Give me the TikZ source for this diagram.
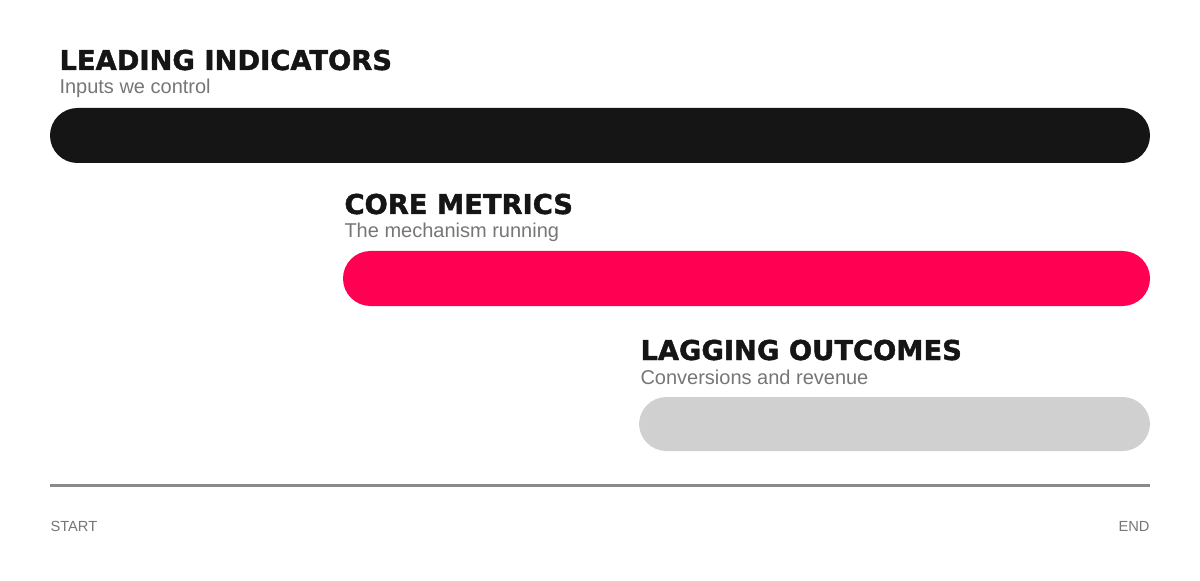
\documentclass[tikz,border=0pt]{standalone}
\usepackage{fontspec}
\setmainfont{Liberation Sans}
\newfontfamily\headfont[BoldFeatures={FakeBold=1.6}]{DejaVu Sans}

\definecolor{barblack}{RGB}{21,21,21}
\definecolor{barred}{RGB}{255,0,82}
\definecolor{bargray}{RGB}{208,208,208}
\definecolor{subgray}{RGB}{118,118,118}
\definecolor{axisgray}{RGB}{138,138,138}

\tikzset{every picture/.style={line width=0.75pt}}
\tikzset{
  heading/.style={anchor=base west,inner sep=0pt,text=barblack,font=\headfont\bfseries\fontsize{20.5}{24}\selectfont},
  subline/.style={anchor=base west,inner sep=0pt,text=subgray,font=\fontsize{15}{18}\selectfont},
  axislabel/.style={inner sep=0pt,text=subgray,font=\fontsize{11}{13}\selectfont},
  bar/.style={rounded corners=20.6pt}
}

\begin{document}
\begin{tikzpicture}[x=0.75pt,y=0.75pt,yscale=-1,xscale=1]
	\useasboundingbox (0,0) rectangle (1200,581);

	%Bars
	\fill [bar,barblack] (50,108) rectangle (1150,163);
	\fill [bar,barred] (343,251) rectangle (1150,306);
	\fill [bar,bargray] (639,397) rectangle (1150,451);
	%Time axis
	\draw [axisgray,line width=2.25pt] (50,485) -- (1150,485);

	% Text Node
	\node [heading] (leadhead) at (59,70) {LEADING INDICATORS};
	\node [subline] (leadsub) at (59,94) {Inputs we control};
	% Text Node
	\node [heading] (corehead) at (344,214) {CORE METRICS};
	\node [subline] (coresub) at (344,238) {The mechanism running};
	% Text Node
	\node [heading] (laghead) at (640,360) {LAGGING OUTCOMES};
	\node [subline] (lagsub) at (640,384) {Conversions and revenue};
	% Text Node
	\node [axislabel,anchor=base west] (start) at (50,531) {START};
	\node [axislabel,anchor=base east] (end) at (1150,531) {END};

\end{tikzpicture}
\end{document}
